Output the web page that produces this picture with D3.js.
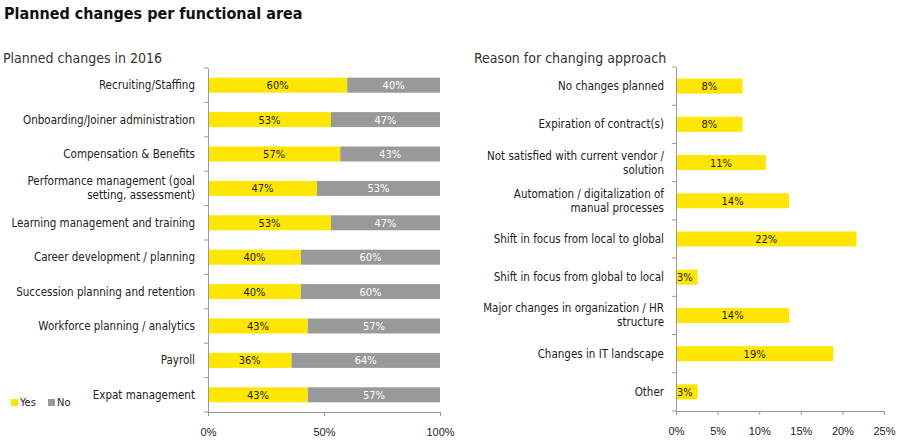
<!DOCTYPE html>
<html><head><meta charset="utf-8">
<script src="https://cdn.jsdelivr.net/npm/d3@7"></script>
<style>
body{margin:0;background:#fff;font-family:"DejaVu Sans Condensed","Liberation Sans Narrow",sans-serif;}
text{fill:#222;}
</style></head><body><div id="chart"></div>
<script>
const width = 900, height = 443;
const yellow = '#ffe600', grey = '#999999';

const planned = [
  ['Recruiting/Staffing', 60],
  ['Onboarding/Joiner administration', 53],
  ['Compensation & Benefits', 57],
  ['Performance management (goal|setting, assessment)', 47],
  ['Learning management and training', 53],
  ['Career development / planning', 40],
  ['Succession planning and retention', 40],
  ['Workforce planning / analytics', 43],
  ['Payroll', 36],
  ['Expat management', 43]
];
const reasons = [
  ['No changes planned', 8.0],
  ['Expiration of contract(s)', 8.0],
  ['Not satisfied with current vendor /|solution', 10.8],
  ['Automation / digitalization of|manual processes', 13.6],
  ['Shift in focus from local to global', 21.7],
  ['Shift in focus from global to local', 2.6],
  ['Major changes in organization / HR|structure', 13.6],
  ['Changes in IT landscape', 18.9],
  ['Other', 2.6]
];

const svg = d3.select('#chart').append('svg').attr('width', width).attr('height', height);

svg.append('text').attr('x', 4).attr('y', 19).style('font-size', '16px').style('font-weight', 'bold').style('fill', '#111').text('Planned changes per functional area');
svg.append('text').attr('x', 3).attr('y', 63).style('font-size', '14px').style('fill', '#333').text('Planned changes in 2016');
svg.append('text').attr('x', 474).attr('y', 63).style('font-size', '14px').style('fill', '#333').text('Reason for changing approach');

function label(g, x, y, str) {
  const lines = str.split('|');
  const t = g.append('text').attr('x', x).attr('text-anchor', 'end').style('font-size', '11.5px');
  lines.forEach((l, i) => {
    t.append('tspan').attr('x', x).attr('y', y + 4 + (i - (lines.length - 1) / 2) * 14).text(l);
  });
}

// left chart
const xL = d3.scaleLinear().domain([0, 100]).range([208, 440]);
const yL = d3.scaleBand().domain(planned.map(d => d[0])).range([68, 412]);
const gL = svg.append('g');
const bh = 15;
planned.forEach(d => {
  const cy = yL(d[0]) + yL.bandwidth() / 2;
  gL.append('rect').attr('x', xL(0)).attr('y', cy - bh / 2).attr('width', xL(d[1]) - xL(0)).attr('height', bh).style('fill', yellow);
  gL.append('rect').attr('x', xL(d[1])).attr('y', cy - bh / 2).attr('width', xL(100) - xL(d[1])).attr('height', bh).style('fill', grey);
  gL.append('text').attr('x', (xL(0) + xL(d[1])) / 2).attr('y', cy + 4).attr('text-anchor', 'middle').style('font-size', '11px').text(d[1] + '%');
  gL.append('text').attr('x', (xL(d[1]) + xL(100)) / 2).attr('y', cy + 4).attr('text-anchor', 'middle').style('font-size', '11px').style('fill', '#fff').text((100 - d[1]) + '%');
  label(gL, 195, cy, d[0]);
});
svg.append('g').attr('transform', 'translate(0,412)')
  .call(d3.axisBottom(xL).tickValues([0, 50, 100]).tickFormat(d => d + '%').tickSize(4).tickPadding(12))
  .call(g => g.selectAll('path,line').style('stroke', '#999'))
  .call(g => g.selectAll('text').style('font-size', '11px').style('fill', '#222').style('font-family', 'inherit'));
svg.append('g').attr('transform', 'translate(208,0)')
  .call(d3.axisLeft(yL).tickSize(0).tickFormat(''))
  .call(g => g.select('path').style('stroke', '#999'));
gL.selectAll('.tk').data(d3.range(planned.length + 1)).enter().append('line')
  .attr('x1', 204).attr('x2', 208).attr('y1', i => 68 + i * yL.step()).attr('y2', i => 68 + i * yL.step()).style('stroke', '#999');

// legend
svg.append('rect').attr('x', 11).attr('y', 399).attr('width', 7).attr('height', 7).style('fill', yellow);
svg.append('text').attr('x', 20).attr('y', 406).style('font-size', '11px').text('Yes');
svg.append('rect').attr('x', 48).attr('y', 399).attr('width', 7).attr('height', 7).style('fill', grey);
svg.append('text').attr('x', 57).attr('y', 406).style('font-size', '11px').text('No');

// right chart
const xR = d3.scaleLinear().domain([0, 25]).range([676, 884]);
const yR = d3.scaleBand().domain(reasons.map(d => d[0])).range([67, 411]);
const gR = svg.append('g');
reasons.forEach(d => {
  const cy = yR(d[0]) + yR.bandwidth() / 2;
  gR.append('rect').attr('x', xR(0)).attr('y', cy - bh / 2).attr('width', xR(d[1]) - xR(0)).attr('height', bh).style('fill', yellow);
  const small = d[1] < 4;
  gR.append('text').attr('x', small ? xR(0) + 1 : (xR(0) + xR(d[1])) / 2).attr('y', cy + 4)
    .attr('text-anchor', small ? 'start' : 'middle').style('font-size', '11px').text(Math.round(d[1]) + '%');
  label(gR, 664, cy, d[0]);
});
svg.append('g').attr('transform', 'translate(0,411)')
  .call(d3.axisBottom(xR).tickValues([0, 5, 10, 15, 20, 25]).tickFormat(d => d + '%').tickSize(4).tickPadding(12))
  .call(g => g.selectAll('path,line').style('stroke', '#999'))
  .call(g => g.selectAll('text').style('font-size', '11px').style('fill', '#222').style('font-family', 'inherit'));
svg.append('g').attr('transform', 'translate(676,0)')
  .call(d3.axisLeft(yR).tickSize(0).tickFormat(''))
  .call(g => g.select('path').style('stroke', '#999'));
gR.selectAll('.tk').data(d3.range(reasons.length + 1)).enter().append('line')
  .attr('x1', 672).attr('x2', 676).attr('y1', i => 67 + i * yR.step()).attr('y2', i => 67 + i * yR.step()).style('stroke', '#999');
</script></body></html>
